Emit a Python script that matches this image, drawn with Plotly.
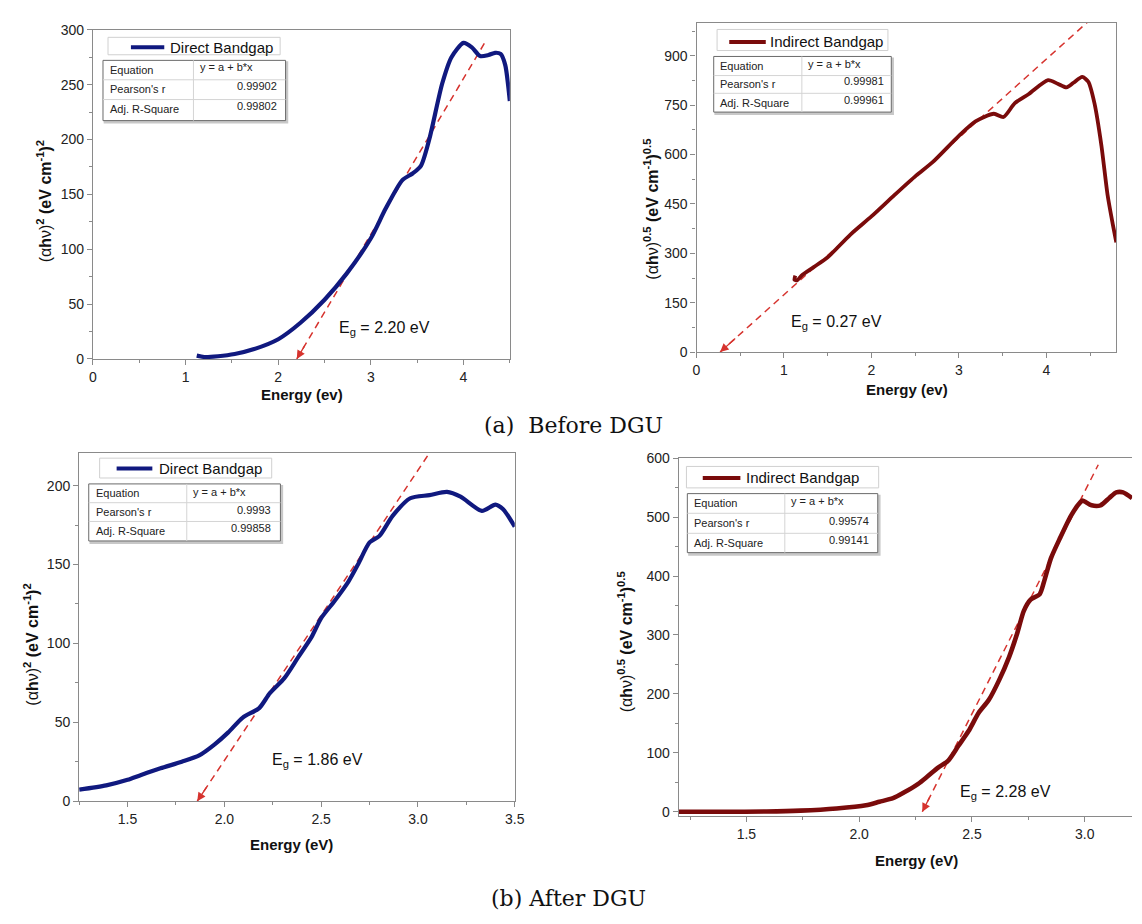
import plotly.graph_objects as go

# ---------------- DATA ----------------
# (a) Before DGU - direct bandgap  (alpha h nu)^2
a_dir_energy = [1.12, 1.2, 1.35, 1.53, 1.74, 2.0, 2.24, 2.5, 2.74, 3.0, 3.16, 3.34, 3.45, 3.54,
                3.63, 3.77, 3.87, 4.0, 4.09, 4.18, 4.27, 4.34, 4.40, 4.45, 4.5]
a_dir_value = [3, 1.8, 2.5, 4.5, 9, 18, 33, 54, 78, 110, 137, 163, 169, 176,
               200, 251, 275, 288, 284, 276, 277, 279, 278, 268, 235]

# (a) Before DGU - indirect bandgap  (alpha h nu)^0.5
a_ind_energy = [1.13, 1.12, 1.15, 1.2, 1.34, 1.5, 1.76, 2.0, 2.26, 2.51, 2.70, 3.0, 3.19, 3.40,
                3.51, 3.64, 3.80, 4.02, 4.13, 4.23, 4.31, 4.41, 4.48, 4.55, 4.63, 4.70, 4.76, 4.8]
a_ind_value = [232, 220, 218, 232, 258, 288, 357, 412, 476, 536, 577, 657, 701, 724,
               714, 756, 784, 826, 815, 804, 818, 836, 821, 756, 627, 478, 388, 333]

# (b) After DGU - direct bandgap
b_dir_energy = [1.25, 1.39, 1.50, 1.57, 1.67, 1.78, 1.87, 1.95, 2.02, 2.095, 2.18, 2.235, 2.31,
                2.38, 2.45, 2.50, 2.57, 2.64, 2.69, 2.75, 2.80, 2.87, 2.96, 3.06, 3.15, 3.22,
                3.33, 3.40, 3.44, 3.5]
b_dir_value = [7.3, 10, 13.5, 16.6, 20.8, 25, 29, 36, 43.6, 53, 59, 68.5, 78,
               91, 104, 116, 127, 139, 150, 164, 168, 181, 192, 194, 196, 193,
               184, 188, 185, 174]

# (b) After DGU - indirect bandgap
b_ind_energy = [1.2, 1.4, 1.59, 1.74, 1.90, 2.03, 2.09, 2.15, 2.20, 2.26, 2.30, 2.35, 2.395,
                2.44, 2.485, 2.53, 2.575, 2.62, 2.665, 2.70, 2.73, 2.76, 2.80, 2.82, 2.85,
                2.89, 2.94, 2.98, 2.99, 3.03, 3.07, 3.11, 3.14, 3.17, 3.21]
b_ind_value = [0, 0, 0.5, 2, 5.6, 11, 17, 23, 33, 47, 59, 75, 87,
               112, 137, 168, 190, 223, 263, 302, 341, 360, 369, 391, 430,
               464, 503, 525, 528, 520, 520, 533, 542, 542, 532]

# linear fits (tangent lines): band gap intercept, slope, upper end of drawn line
eg_values = [2.20, 0.27, 1.86, 2.28]
fit_slopes = [142, 238.6, 184, 755]
fit_x_end = [4.25, 4.48, 3.05, 3.06]
pearson_r = ["0.99902", "0.99981", "0.9993", "0.99574"]
adj_r2 = ["0.99802", "0.99961", "0.99858", "0.99141"]
series_names = ["Direct Bandgap", "Indirect Bandgap", "Direct Bandgap", "Indirect Bandgap"]
eg_labels = ["2.20 eV", "0.27 eV", "1.86 eV", "2.28 eV"]
eg_label_pos = [(3.15, 27.5), (1.6, 89), (2.48, 26), (2.65, 33.5)]
x_titles = ["Energy (ev)", "Energy (ev)", "Energy (eV)", "Energy (eV)"]
captions = ["(a)  Before DGU", "(b) After DGU"]

energies = [a_dir_energy, a_ind_energy, b_dir_energy, b_ind_energy]
values = [a_dir_value, a_ind_value, b_dir_value, b_ind_value]

# ---------------- STYLE / LAYOUT ----------------
W, H = 1142, 924
OFF = 8  # page body margin in the browser
NAVY = "#10197f"
MAROON = "#7a0b0b"
RED = "#d6332e"
FRAME = "#8a8a8a"
FONT = "Liberation Sans"
colors = [NAVY, MAROON, NAVY, MAROON]
widths = [4.2, 3.8, 4.2, 4.6]


def pxx(p):
    return (p - OFF) / W


def pxy(p):
    return 1 - (p - OFF) / H


# screen pixel boxes (left, right, top, bottom)
boxes = [(90, 512, 22, 357), (701, 1126, 15, 350), (76, 517, 453, 807), (683, 1142, 458, 822)]
xranges = [[0, 4.5], [0, 4.8], [1.25, 3.5], [1.2, 3.21]]
yranges = [[0, 300], [0, 1000], [0, 220.5], [-7, 600]]
xticks = [(0, 1, 0.5), (0, 1, 0.5), (1.5, 0.5, 0.25), (1.5, 0.5, 0.25)]
yticks = [(0, 50, 25), (0, 150, 75), (0, 50, 25), (0, 100, 50)]
xfmt = ["d", "d", ".1f", ".1f"]
ytitle_sq = "(α<b>h</b>ν)<sup><b>2</b></sup> <b>(eV cm<sup>-1</sup>)<sup>2</sup></b>"
ytitle_half = "(α<b>h</b>ν)<sup><b>0.5</b></sup> <b>(eV cm<sup>-1</sup>)<sup>0.5</sup></b>"
ytitles = [ytitle_sq, ytitle_half, ytitle_sq, ytitle_half]
ytitle_pos = [(40, 197), (655, 205), (27, 648), (629, 645)]
xtitle_pos = [(302, 393), (914, 388), (291, 851), (924, 867)]
caption_pos = [(576, 425), (571, 906)]

# legend box & stats table geometry in axis-domain fractions
geo = [
    dict(box=(0.036, 0.449, 0.977, 0.924), line=(0.091, 0.171, 0.947), tx=0.179,
         tab=(0.024, 0.462, 0.907, 0.724), col=0.241, rows=(0.848, 0.788),
         lx=0.036, ly=(0.878, 0.820, 0.760), ex=0.251, ey=0.886, vx=0.446, vy=(0.829, 0.768)),
    dict(box=(0.049, 0.456, 0.980, 0.916), line=(0.078, 0.165, 0.942), tx=0.170,
         tab=(0.041, 0.464, 0.898, 0.729), col=0.251, rows=(0.840, 0.786),
         lx=0.052, ly=(0.868, 0.813, 0.758), ex=0.261, ey=0.875, vx=0.451, vy=(0.823, 0.767)),
    dict(box=(0.047, 0.442, 0.986, 0.929), line=(0.086, 0.168, 0.956), tx=0.178,
         tab=(0.022, 0.462, 0.912, 0.748), col=0.247, rows=(0.858, 0.804),
         lx=0.033, ly=(0.887, 0.832, 0.778), ex=0.257, ey=0.890, vx=0.446, vy=(0.838, 0.785)),
    dict(box=(0.017, 0.441, 0.977, 0.917), line=(0.053, 0.136, 0.945), tx=0.145,
         tab=(0.019, 0.439, 0.901, 0.736), col=0.234, rows=(0.846, 0.790),
         lx=0.030, ly=(0.874, 0.819, 0.764), ex=0.243, ey=0.879, vx=0.425, vy=(0.825, 0.772)),
]

fig = go.Figure()
shapes = []
annotations = []
layout_axes = {}

for i in range(4):
    n = "" if i == 0 else str(i + 1)
    xa, ya = "x" + n, "y" + n
    xd, yd = xa + " domain", ya + " domain"
    l, r, t, b = boxes[i]

    # tangent / fit line (dashed)
    eg, s, xe = eg_values[i], fit_slopes[i], fit_x_end[i]
    fig.add_trace(go.Scatter(x=[eg, xe], y=[0, s * (xe - eg)], mode="lines", xaxis=xa, yaxis=ya,
                             line=dict(color=RED, width=1.5, dash="7px,5px"),
                             showlegend=False, hoverinfo="skip"))
    # spectrum curve
    fig.add_trace(go.Scatter(x=energies[i], y=values[i], mode="lines", xaxis=xa, yaxis=ya,
                             line=dict(color=colors[i], width=widths[i], shape="spline", smoothing=0.7),
                             name=series_names[i], showlegend=False))

    x0t, dxt, mxt = xticks[i]
    y0t, dyt, myt = yticks[i]
    layout_axes["xaxis" + n] = dict(
        domain=[pxx(l), min(1.0, pxx(r))], range=xranges[i], anchor=ya, showgrid=False, zeroline=False,
        showline=True, linecolor=FRAME, linewidth=1.3, mirror=True,
        ticks="outside", ticklen=5, tickcolor=FRAME, tick0=x0t, dtick=dxt, tickformat=xfmt[i],
        minor=dict(ticks="outside", ticklen=3, tickcolor=FRAME, tick0=x0t, dtick=mxt, showgrid=False),
        tickfont=dict(family=FONT, size=14, color="#222"), fixedrange=True)
    layout_axes["yaxis" + n] = dict(
        domain=[pxy(b), pxy(t)], range=yranges[i], anchor=xa, showgrid=False, zeroline=False,
        showline=True, linecolor=FRAME, linewidth=1.3, mirror=(i != 3),
        ticks="outside", ticklen=5, tickcolor=FRAME, tick0=y0t, dtick=dyt,
        minor=dict(ticks="outside", ticklen=3, tickcolor=FRAME, tick0=y0t, dtick=myt, showgrid=False),
        tickfont=dict(family=FONT, size=14, color="#222"), fixedrange=True)

    # short arrow head at the band-gap intercept
    f = 0.045
    annotations.append(dict(x=eg, y=0, xref=xa, yref=ya, ax=eg + f * (xe - eg),
                            ay=s * f * (xe - eg), axref=xa, ayref=ya, showarrow=True,
                            arrowhead=2, arrowsize=1.3, arrowwidth=1.3, arrowcolor=RED, text=""))
    # Eg label
    ex_, ey_ = eg_label_pos[i]
    annotations.append(dict(x=ex_, y=ey_, xref=xa, yref=ya, showarrow=False,
                            xanchor="center", yanchor="middle",
                            text="E<sub>g</sub> = " + eg_labels[i],
                            font=dict(family=FONT, size=16, color="#111")))

    # legend box
    g = geo[i]
    bx0, bx1, by0, by1 = g["box"]
    shapes.append(dict(type="rect", xref=xd, yref=yd, x0=bx0, x1=bx1, y0=by1, y1=by0,
                       line=dict(color="#d0d0d0", width=1), fillcolor="white", layer="above"))
    lx0, lx1, lyy = g["line"]
    shapes.append(dict(type="line", xref=xd, yref=yd, x0=lx0, x1=lx1, y0=lyy, y1=lyy,
                       line=dict(color=colors[i], width=4), layer="above"))
    annotations.append(dict(x=g["tx"], y=lyy, xref=xd, yref=yd, xanchor="left", yanchor="middle",
                            showarrow=False, text=series_names[i],
                            font=dict(family=FONT, size=15, color="#111")))

    # stats table
    tx0, tx1, ty0, ty1 = g["tab"]
    shapes.append(dict(type="rect", xref=xd, yref=yd, x0=tx0 + 0.004, x1=tx1 + 0.004,
                       y0=ty1 - 0.006, y1=ty0 - 0.006, line=dict(color="#c8c8c8", width=2),
                       fillcolor="#c8c8c8", layer="above"))
    shapes.append(dict(type="rect", xref=xd, yref=yd, x0=tx0, x1=tx1, y0=ty1, y1=ty0,
                       line=dict(color="#6a6a6a", width=1), fillcolor="white", layer="above"))
    for ry in g["rows"]:
        shapes.append(dict(type="line", xref=xd, yref=yd, x0=tx0, x1=tx1, y0=ry, y1=ry,
                           line=dict(color="#d4d4d4", width=1), layer="above"))
    shapes.append(dict(type="line", xref=xd, yref=yd, x0=g["col"], x1=g["col"], y0=ty1, y1=ty0,
                       line=dict(color="#d4d4d4", width=1), layer="above"))
    for lab, yy in zip(["Equation", "Pearson's r", "Adj. R-Square"], g["ly"]):
        annotations.append(dict(x=g["lx"], y=yy, xref=xd, yref=yd, xanchor="left", yanchor="middle",
                                showarrow=False, text=lab, font=dict(family=FONT, size=11, color="#222")))
    annotations.append(dict(x=g["ex"], y=g["ey"], xref=xd, yref=yd, xanchor="left", yanchor="middle",
                            showarrow=False, text="y = a + b*x", font=dict(family=FONT, size=11, color="#222")))
    for val, yy in zip([pearson_r[i], adj_r2[i]], g["vy"]):
        annotations.append(dict(x=g["vx"], y=yy, xref=xd, yref=yd, xanchor="right", yanchor="middle",
                                showarrow=False, text=val, font=dict(family=FONT, size=11, color="#222")))

    # axis titles
    px_, py_ = xtitle_pos[i]
    annotations.append(dict(x=pxx(px_), y=pxy(py_), xref="paper", yref="paper", showarrow=False,
                            xanchor="center", yanchor="middle",
                            text="<b>" + x_titles[i] + "</b>",
                            font=dict(family=FONT, size=15, color="#111")))
    px_, py_ = ytitle_pos[i]
    annotations.append(dict(x=pxx(px_), y=pxy(py_), xref="paper", yref="paper", showarrow=False,
                            xanchor="center", yanchor="middle",
                            textangle=-90, text=ytitles[i],
                            font=dict(family=FONT, size=16, color="#111")))

for cap, (cx, cy) in zip(captions, caption_pos):
    annotations.append(dict(x=pxx(cx), y=pxy(cy), xref="paper", yref="paper", showarrow=False,
                            xanchor="center", yanchor="middle",
                            text=cap, font=dict(family="DejaVu Serif", size=22, color="#111")))

fig.update_layout(width=W, height=H, margin=dict(l=0, r=0, t=0, b=0),
                  paper_bgcolor="white", plot_bgcolor="white", showlegend=False,
                  shapes=shapes, annotations=annotations, **layout_axes)

fig.write_html("out.html")
